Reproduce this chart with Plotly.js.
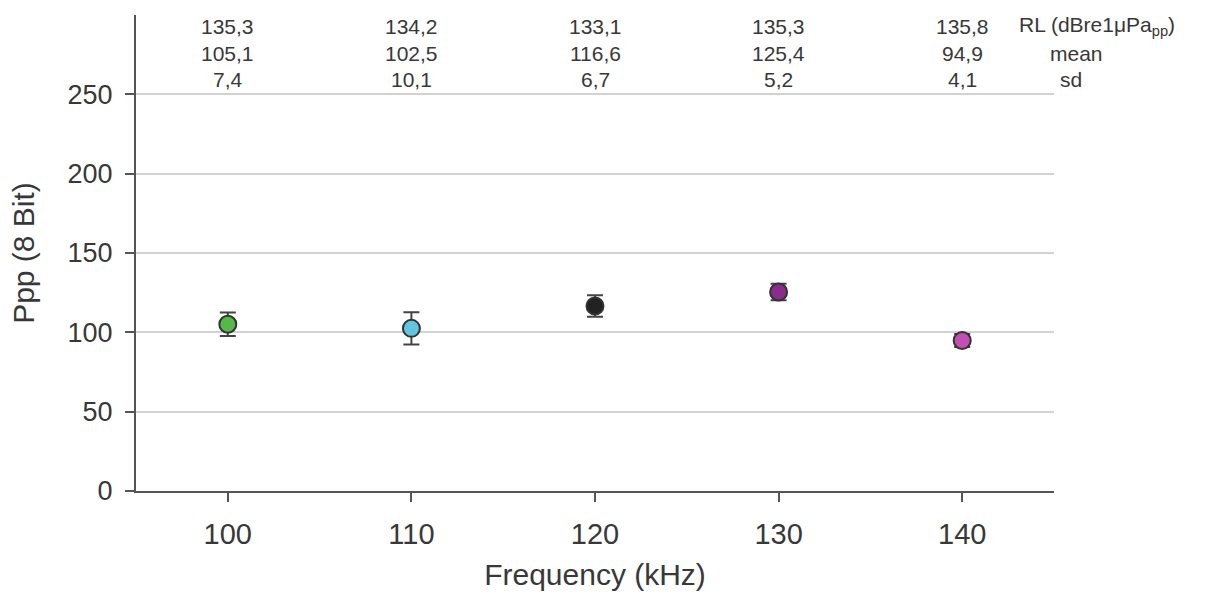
<!DOCTYPE html>
<html>
<head>
<meta charset="utf-8">
<script src="https://cdn.plot.ly/plotly-3.0.1.min.js"></script>
<style>html,body{margin:0;padding:0;background:#fff}#chart{width:1221px;height:596px}</style>
</head>
<body>
<div id="chart"></div>
<script>
// Data
const frequencies = [100, 110, 120, 130, 140];
const meanPpp = [105.1, 102.5, 116.6, 125.4, 94.9];
const sdPpp = [7.4, 10.1, 6.7, 5.2, 4.1];
const rlValues = ["135,3", "134,2", "133,1", "135,3", "135,8"];
const meanLabels = ["105,1", "102,5", "116,6", "125,4", "94,9"];
const sdLabels = ["7,4", "10,1", "6,7", "5,2", "4,1"];
const pointColors = ["#55b947", "#62c6e0", "#222222", "#8a2c8c", "#c24fb2"];
const rowNames = ["RL (dBre1μPa<sub>pp</sub>)", "mean", "sd"];

const FONT = "Liberation Sans, Arial, sans-serif";
const TXT = "#383838";

const trace = {
  type: "scatter",
  mode: "markers",
  x: frequencies,
  y: meanPpp,
  error_y: {type: "data", array: sdPpp, visible: true, color: "#444", thickness: 2, width: 8},
  marker: {size: 17, color: pointColors, line: {color: "#333", width: 2}},
  showlegend: false,
  hoverinfo: "x+y"
};

const rowY = [0.976, 0.920, 0.865];
const annotations = [];
[rlValues, meanLabels, sdLabels].forEach((row, r) => {
  row.forEach((t, i) => {
    annotations.push({x: frequencies[i], xref: "x", y: rowY[r], yref: "paper",
      text: t, showarrow: false, xanchor: "center", yanchor: "middle",
      font: {family: FONT, size: 21, color: TXT}});
  });
});
const nameX = [0.960, 0.994, 1.004];
rowNames.forEach((t, r) => {
  annotations.push({x: nameX[r], xref: "paper", y: rowY[r], yref: "paper",
    text: t, showarrow: false, xanchor: "left", yanchor: "middle",
    font: {family: FONT, size: 21, color: TXT}});
});

const layout = {
  width: 1221, height: 596,
  margin: {l: 136, r: 167, t: 15, b: 105},
  paper_bgcolor: "#fff", plot_bgcolor: "#fff",
  font: {family: FONT, color: TXT},
  xaxis: {
    range: [95, 145], tickvals: frequencies, ticktext: frequencies.map(String),
    showline: true, linecolor: "#555", linewidth: 2,
    ticks: "outside", ticklen: 9, tickwidth: 2, tickcolor: "#555",
    ticklabelstandoff: 7,
    showgrid: false, zeroline: false,
    tickfont: {family: FONT, size: 29, color: TXT},
    title: {text: "Frequency (kHz)", font: {family: FONT, size: 30, color: TXT}, standoff: 15}
  },
  yaxis: {
    range: [0, 300], tickvals: [0, 50, 100, 150, 200, 250],
    showline: true, linecolor: "#555", linewidth: 2,
    ticks: "outside", ticklen: 9, tickwidth: 2, tickcolor: "#555",
    ticklabelstandoff: 7,
    showgrid: true, gridcolor: "#d2d2d2", gridwidth: 2, zeroline: false,
    tickfont: {family: FONT, size: 27, color: TXT},
    title: {text: "Ppp (8 Bit)", font: {family: FONT, size: 30, color: TXT}, standoff: 24}
  },
  annotations: annotations
};

Plotly.newPlot("chart", [trace], layout, {displayModeBar: false, staticPlot: true});
</script>
</body>
</html>
